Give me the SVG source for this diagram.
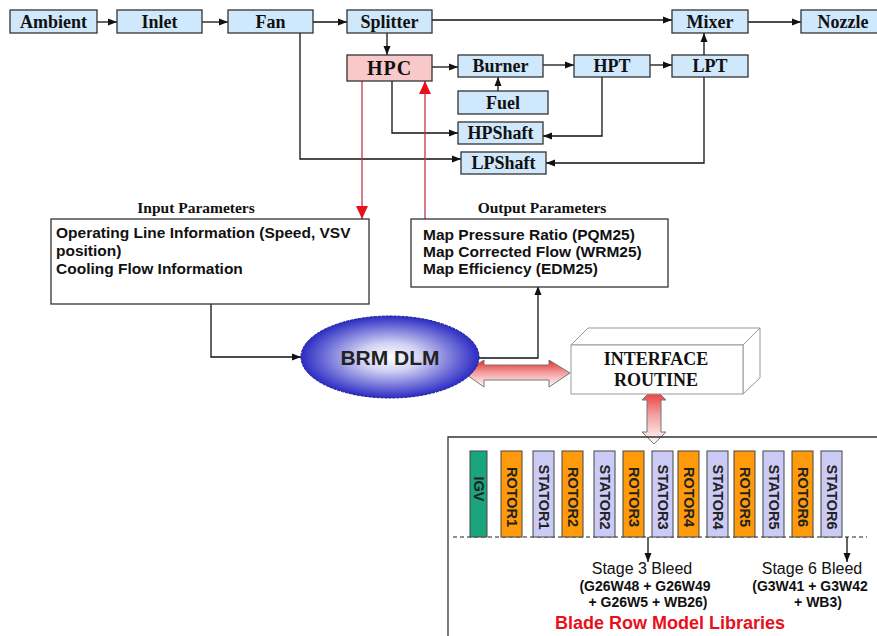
<svg xmlns="http://www.w3.org/2000/svg" width="877" height="636" viewBox="0 0 877 636">
<style>
.bx{fill:#cfe8fb;stroke:#333;stroke-width:1.3}
.bt{font-family:"Liberation Serif",serif;font-weight:bold;font-size:18px;fill:#111;text-anchor:middle}
.ln{fill:none;stroke:#111;stroke-width:1.3}
.rl{fill:none;stroke:#c8324a;stroke-width:1.3}
.pt{font-family:"Liberation Serif",serif;font-weight:bold;font-size:15.5px;fill:#111;text-anchor:middle}
.pb{font-family:"Liberation Sans",Arial,sans-serif;font-weight:bold;font-size:15.5px;fill:#111}
.row{stroke:#444;stroke-width:1}
.rt{font-family:"Liberation Sans",Arial,sans-serif;font-weight:bold;font-size:14.5px;fill:#222;text-anchor:middle;dominant-baseline:central}
.sb{font-family:"Liberation Sans",Arial,sans-serif;font-size:16px;fill:#111;text-anchor:middle}
.sg{font-family:"Liberation Sans",Arial,sans-serif;font-weight:bold;font-size:14px;fill:#111;text-anchor:middle}
</style>
<defs>
<marker id="ah" markerUnits="userSpaceOnUse" markerWidth="9" markerHeight="8" refX="9" refY="4" orient="auto"><path d="M0,0.5 L9,4 L0,7.5 z" fill="#111"/></marker>
<marker id="rh" markerUnits="userSpaceOnUse" markerWidth="14" markerHeight="12" refX="13" refY="6" orient="auto"><path d="M0,0 L13,6 L0,12 z" fill="#e8101a"/></marker>
<radialGradient id="eg" cx="0.5" cy="0.5" r="0.5">
<stop offset="0" stop-color="#ffffff"/>
<stop offset="0.35" stop-color="#d0d0f4"/>
<stop offset="1" stop-color="#2c2cc4"/>
</radialGradient>
<linearGradient id="ag" x1="0" y1="0" x2="0" y2="1">
<stop offset="0" stop-color="#e82828"/>
<stop offset="0.45" stop-color="#f29a9a"/>
<stop offset="1" stop-color="#ffffff"/>
</linearGradient>
</defs>
<rect width="877" height="636" fill="#fff"/>

<g id="connectors">
<path class="ln" d="M97,22 H117" marker-end="url(#ah)"/>
<path class="ln" d="M202,22 H228" marker-end="url(#ah)"/>
<path class="ln" d="M313,22 H347" marker-end="url(#ah)"/>
<path class="ln" d="M432,20 H672" marker-end="url(#ah)"/>
<path class="ln" d="M748,22 H801" marker-end="url(#ah)"/>
<path class="ln" d="M387,33 V55" marker-end="url(#ah)"/>
<path class="ln" d="M432,67 H458" marker-end="url(#ah)"/>
<path class="ln" d="M543,65 H574" marker-end="url(#ah)"/>
<path class="ln" d="M650,65 H672" marker-end="url(#ah)"/>
<path class="ln" d="M498,91 V77" marker-end="url(#ah)"/>
<path class="ln" d="M704,60 V33" marker-end="url(#ah)"/>
<path class="ln" d="M704,77 V163 H546" marker-end="url(#ah)"/>
<path class="ln" d="M602,77 V136 H543" marker-end="url(#ah)"/>
<path class="ln" d="M392,81 V133 H458" marker-end="url(#ah)"/>
<path class="ln" d="M300,33 V159 H461" marker-end="url(#ah)"/>
<path class="rl" d="M362,81 V219" marker-end="url(#rh)"/>
<path class="rl" d="M425,219 V81" marker-end="url(#rh)"/>
<path class="ln" d="M211,304 V357 H301" marker-end="url(#ah)"/>
<path class="ln" d="M477,358 H538 V286" marker-end="url(#ah)"/>
<path d="M464,373 L484,360 L484,365 L549,365 L549,360 L570,373 L549,387 L549,380 L484,380 L484,387 Z" fill="url(#ag)" stroke="#777" stroke-width="1"/>
<path d="M654,388 L666,400 L661,400 L661,432 L666,432 L654,444 L642,432 L647,432 L647,400 L642,400 Z" fill="url(#ag)" stroke="#777" stroke-width="1"/>
<path class="ln" d="M648,537 V562" marker-end="url(#ah)"/>
<path class="ln" d="M847,537 V562" marker-end="url(#ah)"/>
</g>

<g id="ambient"><rect class="bx" x="10" y="10" width="87" height="23"/><text class="bt" x="53.5" y="28">Ambient</text></g>
<g id="inlet"><rect class="bx" x="117" y="10" width="85" height="23"/><text class="bt" x="159.5" y="28">Inlet</text></g>
<g id="fan"><rect class="bx" x="228" y="10" width="85" height="23"/><text class="bt" x="270.5" y="28">Fan</text></g>
<g id="splitter"><rect class="bx" x="347" y="10" width="85" height="23"/><text class="bt" x="389.5" y="28">Splitter</text></g>
<g id="mixer"><rect class="bx" x="672" y="10" width="76" height="23"/><text class="bt" x="710" y="28">Mixer</text></g>
<g id="nozzle"><rect class="bx" x="801" y="10" width="84" height="23"/><text class="bt" x="843" y="28">Nozzle</text></g>
<g id="hpc"><rect x="347" y="55" width="85" height="26" fill="#f9c9c9" stroke="#333" stroke-width="1.3"/><text class="bt" x="389.5" y="75" style="font-size:20px;letter-spacing:1px">HPC</text></g>
<g id="burner"><rect class="bx" x="458" y="55" width="85" height="22"/><text class="bt" x="500.5" y="72">Burner</text></g>
<g id="hpt"><rect class="bx" x="574" y="55" width="76" height="22"/><text class="bt" x="612" y="72">HPT</text></g>
<g id="lpt"><rect class="bx" x="672" y="55" width="76" height="22"/><text class="bt" x="710" y="72">LPT</text></g>
<g id="fuel"><rect class="bx" x="458" y="91" width="90" height="23"/><text class="bt" x="503" y="109">Fuel</text></g>
<g id="hpshaft"><rect class="bx" x="458" y="122" width="85" height="22"/><text class="bt" x="500.5" y="139">HPShaft</text></g>
<g id="lpshaft"><rect class="bx" x="461" y="152" width="85" height="22"/><text class="bt" x="503.5" y="169">LPShaft</text></g>

<g id="input-parameters">
<text class="pt" x="196" y="213">Input Parameters</text>
<rect x="51" y="219" width="318" height="85" fill="#fff" stroke="#333" stroke-width="1.3"/>
<text class="pb" x="56" y="238">Operating Line Information (Speed, VSV</text>
<text class="pb" x="56" y="256">position)</text>
<text class="pb" x="56" y="274">Cooling Flow Information</text>
</g>

<g id="output-parameters">
<text class="pt" x="542" y="213">Output Parameters</text>
<rect x="411" y="219" width="257" height="68" fill="#fff" stroke="#333" stroke-width="1.3"/>
<text class="pb" x="423" y="240">Map Pressure Ratio (PQM25)</text>
<text class="pb" x="423" y="257">Map Corrected Flow (WRM25)</text>
<text class="pb" x="423" y="274">Map Efficiency (EDM25)</text>
</g>

<g id="brm-dlm">
<ellipse cx="390" cy="357" rx="89" ry="41" fill="url(#eg)" stroke="#1c1c90" stroke-width="1" stroke-dasharray="3,1"/>
<text x="390" y="365" style="font-family:'Liberation Sans',Arial,sans-serif;font-weight:bold;font-size:21px;fill:#222;text-anchor:middle">BRM DLM</text>
</g>

<g id="interface-routine">
<polygon points="571,345 588,328 760,328 743,345" fill="#fff" stroke="#999" stroke-width="1"/>
<polygon points="743,345 760,328 760,378 743,394" fill="#fff" stroke="#999" stroke-width="1"/>
<rect x="571" y="345" width="172" height="49" fill="#fff" stroke="#999" stroke-width="1"/>
<text class="bt" x="656" y="365">INTERFACE</text>
<text class="bt" x="656" y="386">ROUTINE</text>
</g>

<g id="blade-row-model-libraries">
<path d="M448,636 V437 H877" fill="none" stroke="#333" stroke-width="1.3"/>
<path d="M453,537 H867" fill="none" stroke="#222" stroke-width="1.2" stroke-dasharray="4,3"/>
<g id="igv"><rect class="row" x="470" y="451" width="17" height="86" fill="#1ba57c"/><text class="rt" transform="translate(478.5,489) rotate(90)">IGV</text></g>
<g id="rotor1"><rect class="row" x="501" y="451" width="21" height="86" fill="#ff9a0a"/><text class="rt" transform="translate(511.5,497) rotate(90)">ROTOR1</text></g>
<g id="stator1"><rect class="row" x="533" y="451" width="21" height="86" fill="#cbcbf6"/><text class="rt" transform="translate(543.5,497) rotate(90)">STATOR1</text></g>
<g id="rotor2"><rect class="row" x="562" y="451" width="21" height="86" fill="#ff9a0a"/><text class="rt" transform="translate(572.5,497) rotate(90)">ROTOR2</text></g>
<g id="stator2"><rect class="row" x="594" y="451" width="21" height="86" fill="#cbcbf6"/><text class="rt" transform="translate(604.5,497) rotate(90)">STATOR2</text></g>
<g id="rotor3"><rect class="row" x="623" y="451" width="21" height="86" fill="#ff9a0a"/><text class="rt" transform="translate(633.5,497) rotate(90)">ROTOR3</text></g>
<g id="stator3"><rect class="row" x="652" y="451" width="21" height="86" fill="#cbcbf6"/><text class="rt" transform="translate(662.5,497) rotate(90)">STATOR3</text></g>
<g id="rotor4"><rect class="row" x="678" y="451" width="21" height="86" fill="#ff9a0a"/><text class="rt" transform="translate(688.5,497) rotate(90)">ROTOR4</text></g>
<g id="stator4"><rect class="row" x="707" y="451" width="21" height="86" fill="#cbcbf6"/><text class="rt" transform="translate(717.5,497) rotate(90)">STATOR4</text></g>
<g id="rotor5"><rect class="row" x="734" y="451" width="21" height="86" fill="#ff9a0a"/><text class="rt" transform="translate(744.5,497) rotate(90)">ROTOR5</text></g>
<g id="stator5"><rect class="row" x="763" y="451" width="21" height="86" fill="#cbcbf6"/><text class="rt" transform="translate(773.5,497) rotate(90)">STATOR5</text></g>
<g id="rotor6"><rect class="row" x="792" y="451" width="21" height="86" fill="#ff9a0a"/><text class="rt" transform="translate(802.5,497) rotate(90)">ROTOR6</text></g>
<g id="stator6"><rect class="row" x="821" y="451" width="21" height="86" fill="#cbcbf6"/><text class="rt" transform="translate(831.5,497) rotate(90)">STATOR6</text></g>
<g id="stage3-bleed">
<text class="sb" x="642" y="574">Stage 3 Bleed</text>
<text class="sg" x="645" y="591">(G26W48 + G26W49</text>
<text class="sg" x="648" y="607">+ G26W5 + WB26)</text>
</g>
<g id="stage6-bleed">
<text class="sb" x="812" y="574">Stage 6 Bleed</text>
<text class="sg" x="810" y="591">(G3W41 + G3W42</text>
<text class="sg" x="818" y="607">+ WB3)</text>
</g>
<text x="670" y="629" style="font-family:'Liberation Sans',Arial,sans-serif;font-weight:bold;font-size:18px;fill:#e8101a;text-anchor:middle">Blade Row Model Libraries</text>
</g>
</svg>
